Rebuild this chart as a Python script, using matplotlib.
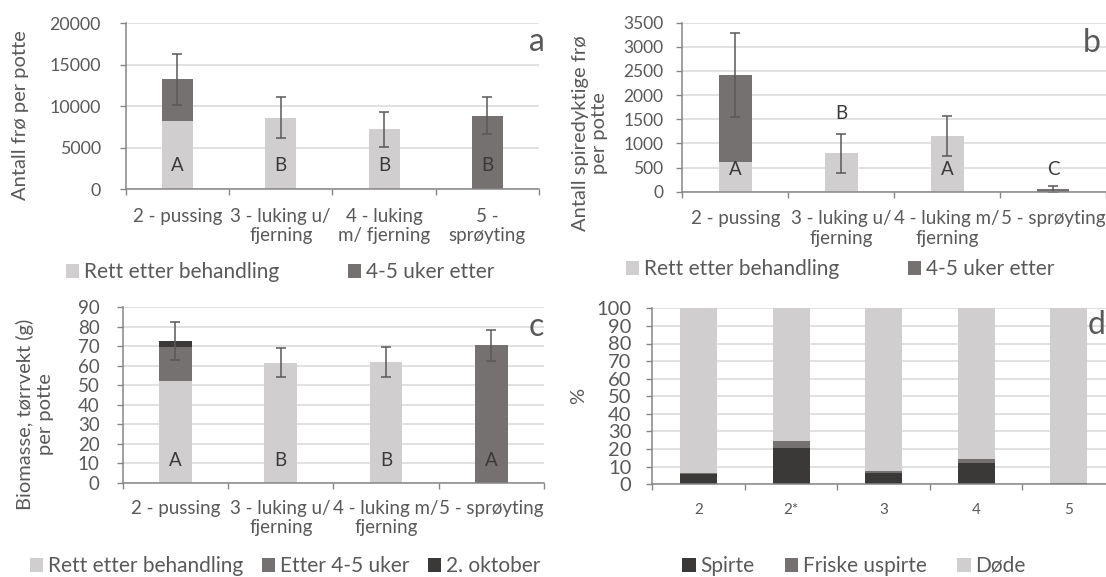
import matplotlib
matplotlib.use("Agg")
import matplotlib.pyplot as plt
import numpy as np

plt.rcParams['font.family'] = ['Lato', 'DejaVu Sans']

# --- data -----------------------------------------------------------
beh_a = ["2 - pussing", "3 - luking u/\nfjerning", "4 - luking\nm/ fjerning", "5 -\nsprøyting"]
beh_bc = ["2 - pussing", "3 - luking u/\nfjerning", "4 - luking m/\nfjerning", "5 - sprøyting"]

a_rett = [8200, 8630, 7230, 0]
a_uker = [5050, 0, 0, 8840]
a_err = [3100, 2470, 2110, 2230]
a_bokst = ["A", "B", "B", "B"]

b_rett = [620, 795, 1150, 0]
b_uker = [1800, 0, 0, 48]
b_err = [875, 410, 415, 70]
b_bokst = ["A", "B", "A", "C"]
b_bokst_y = [464, 1623, 464, 464]

c_rett = [52.3, 61.6, 61.9, 0]
c_uker = [17.5, 0, 0, 70.5]
c_okt = [3.1, 0, 0, 0]
c_err = [9.8, 7.3, 7.7, 7.9]
c_bokst = ["A", "B", "B", "A"]

d_kat = ["2", "2*", "3", "4", "5"]
d_spirte = [5.8, 20.9, 6.6, 12.2, 0]
d_friske = [0.5, 3.6, 1.1, 2.3, 0.8]
d_dode = [93.7, 75.5, 92.3, 85.5, 99.2]

lys = "#D0CECE"
mid = "#767171"
mork = "#3B3838"
tekst = "#595959"
akse = "#868686"
grid = "#D9D9D9"

W, H = 1106, 577
fig = plt.figure(figsize=(W / 100, H / 100), dpi=100)


def ny_akse(left, right, top, bottom):
    return fig.add_axes([left / W, 1 - bottom / H, (right - left) / W, (bottom - top) / H])


def stil(ax, n, labels, ymax, ystep, ysize, ypad, xsize, xpad):
    ax.set_xlim(-0.5, n - 0.5)
    ax.set_ylim(0, ymax)
    ax.set_yticks(np.arange(0, ymax + 1e-9, ystep))
    ax.set_xticks(np.arange(n + 1) - 0.5)
    ax.set_xticklabels([])
    ax.set_xticks(np.arange(n), minor=True)
    ax.set_xticklabels(labels, minor=True, fontsize=xsize, color=tekst, linespacing=1.15)
    ax.tick_params(axis="x", which="major", length=4.5, width=1.0, color=akse, direction="out")
    ax.tick_params(axis="x", which="minor", length=0, pad=xpad + 4.5)
    ax.tick_params(axis="y", length=4.5, width=1.0, color=akse, labelsize=ysize, labelcolor=tekst, pad=ypad)
    for s in ["top", "right"]:
        ax.spines[s].set_visible(False)
    for s in ["left", "bottom"]:
        ax.spines[s].set_color(akse)
        ax.spines[s].set_linewidth(1.1)
    ax.yaxis.grid(True, color=grid, lw=1.1)
    ax.set_axisbelow(True)


def legende(ax, handles, labels, cx, cy, colsp):
    ax.legend(handles, labels, loc="center", bbox_to_anchor=(cx / W, 1 - cy / H),
              bbox_transform=fig.transFigure, ncol=len(labels), frameon=False,
              fontsize=15, labelcolor=tekst, handlelength=0.65, handleheight=0.65,
              handletextpad=0.22, columnspacing=colsp, borderpad=0)


ek = dict(fmt="none", ecolor=tekst, elinewidth=1.1, capsize=3.6, capthick=1.1)

# --- a --------------------------------------------------------------
ax = ny_akse(125.7, 539, 23.3, 189)
x = np.arange(4)
h1 = ax.bar(x, a_rett, 0.30, color=lys)
h2 = ax.bar(x, a_uker, 0.30, bottom=a_rett, color=mid)
ax.errorbar(x, np.add(a_rett, a_uker), yerr=a_err, **ek)
for i, t in enumerate(a_bokst):
    ax.text(i, 2800, t, ha="center", va="center", fontsize=13.5, color=mork)
stil(ax, 4, beh_a, 20000, 5000, 12.8, 13.4, 13.5, 9)
legende(ax, [h1, h2], ["Rett etter behandling", "4-5 uker etter"], 280, 272, 3.3)
fig.text(21 / W, 1 - 115 / H, "Antall frø per potte", rotation=90, ha="center", va="center",
         fontsize=14.5, color=tekst)
fig.text(537 / W, 1 - 42 / H, "a", ha="center", va="center", fontsize=23, color=tekst)

# --- b --------------------------------------------------------------
ax = ny_akse(682.3, 1106, 22.7, 191.7)
h1 = ax.bar(x, b_rett, 0.31, color=lys)
h2 = ax.bar(x, b_uker, 0.31, bottom=b_rett, color=mid)
ax.errorbar(x, np.add(b_rett, b_uker), yerr=b_err, **ek)
for i, t in enumerate(b_bokst):
    ax.text(i, b_bokst_y[i], t, ha="center", va="center", fontsize=13.5, color=mork)
stil(ax, 4, beh_bc, 3500, 500, 12.5, 9, 13.5, 9)
legende(ax, [h1, h2], ["Rett etter behandling", "4-5 uker etter"], 840, 269, 3.3)
fig.text(590 / W, 1 - 133 / H, "Antall spiredyktige frø\nper potte", rotation=90, ha="center",
         va="center", fontsize=14.5, color=tekst, linespacing=1.15)
fig.text(1092 / W, 1 - 43 / H, "b", ha="center", va="center", fontsize=23, color=tekst)

# --- c --------------------------------------------------------------
ax = ny_akse(122.7, 544, 307.3, 482.7)
h1 = ax.bar(x, c_rett, 0.31, color=lys)
h2 = ax.bar(x, c_uker, 0.31, bottom=c_rett, color=mid)
h3 = ax.bar(x, c_okt, 0.31, bottom=np.add(c_rett, c_uker), color=mork)
ax.errorbar(x, np.add(np.add(c_rett, c_uker), c_okt), yerr=c_err, **ek)
for i, t in enumerate(c_bokst):
    ax.text(i, 11.6, t, ha="center", va="center", fontsize=13.5, color=mork)
stil(ax, 4, beh_bc, 90, 10, 13.5, 12, 13.5, 8)
legende(ax, [h1, h2, h3], ["Rett etter behandling", "Etter 4-5 uker", "2. oktober"], 285, 566, 0.9)
fig.text(35 / W, 1 - 414 / H, "Biomasse, tørrvekt (g)\nper potte", rotation=90, ha="center",
         va="center", fontsize=14.5, color=tekst, linespacing=1.15)
fig.text(536 / W, 1 - 327 / H, "c", ha="center", va="center", fontsize=23, color=tekst)

# --- d --------------------------------------------------------------
ax = ny_akse(652.3, 1115, 308.3, 484.3)
xd = np.arange(len(d_kat))
h1 = ax.bar(xd, d_spirte, 0.40, color=mork)
h2 = ax.bar(xd, d_friske, 0.40, bottom=d_spirte, color=mid)
h3 = ax.bar(xd, d_dode, 0.40, bottom=np.add(d_spirte, d_friske), color=lys)
stil(ax, 5, d_kat, 100, 10, 14.5, 10.5, 11, 9)
legende(ax, [h1, h2, h3], ["Spirte", "Friske uspirte", "Døde"], 854, 566, 1.45)
fig.text(579 / W, 1 - 396 / H, "%", rotation=90, ha="center", va="center", fontsize=14.5, color=tekst)
fig.text(1097 / W, 1 - 325 / H, "d", ha="center", va="center", fontsize=23, color=tekst)

fig.savefig("out.png", dpi=100)
